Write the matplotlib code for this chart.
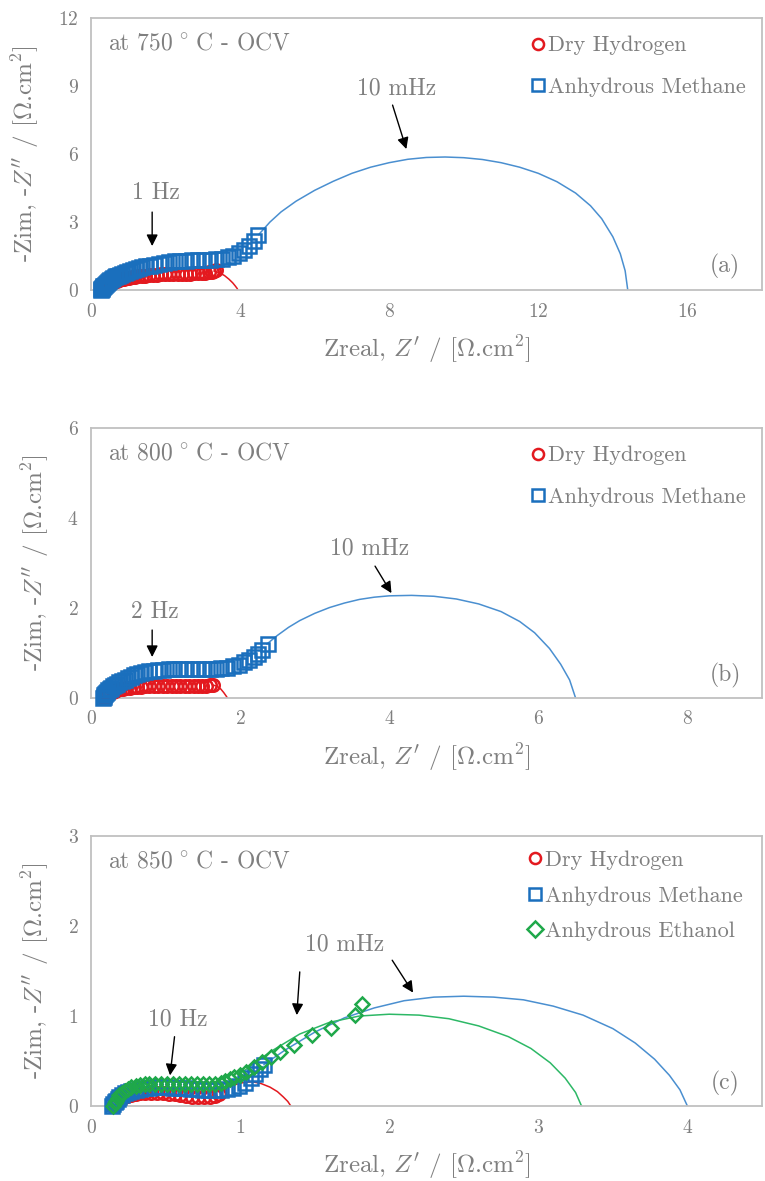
import matplotlib
matplotlib.use("Agg")
import matplotlib.pyplot as plt

plt.rcParams['font.family'] = 'serif'
plt.rcParams['font.serif'] = ['cmr10']
plt.rcParams['mathtext.fontset'] = 'cm'
plt.rcParams['axes.unicode_minus'] = False
plt.rcParams['axes.formatter.use_mathtext'] = True

GRAY = '#7f7f7f'
RED = '#e3191f'
BLUE = '#1a6fbd'
BLUE_LINE = '#4a8fd0'
GREEN = '#1fa84a'
GREEN_LINE = '#2db866'

# ---------------- (a) 750 C ----------------
h2_a_x = [0.28, 0.29, 0.30, 0.32, 0.34, 0.36, 0.39, 0.42, 0.45, 0.48, 0.52, 0.56, 0.60, 0.65,
          0.70, 0.76, 0.82, 0.88, 0.95, 1.02, 1.10, 1.18, 1.27, 1.36, 1.46, 1.56, 1.66, 1.77,
          1.88, 1.99, 2.10, 2.21, 2.32, 2.43, 2.54, 2.65, 2.76, 2.87, 2.97, 3.07, 3.16, 3.24,
          3.30, 3.34]
h2_a_y = [0.00, 0.03, 0.06, 0.09, 0.12, 0.15, 0.18, 0.21, 0.24, 0.27, 0.30, 0.33, 0.36, 0.39,
          0.42, 0.45, 0.48, 0.50, 0.53, 0.55, 0.57, 0.59, 0.61, 0.63, 0.64, 0.66, 0.67, 0.68,
          0.69, 0.70, 0.70, 0.71, 0.71, 0.72, 0.72, 0.73, 0.74, 0.75, 0.76, 0.77, 0.79, 0.81,
          0.84, 0.87]
h2_a_fit_x = [3.30, 3.45, 3.58, 3.70, 3.80, 3.87, 3.92, 3.94]
h2_a_fit_y = [0.84, 0.76, 0.64, 0.48, 0.32, 0.18, 0.07, 0.00]

ch4_a_x = [0.27, 0.28, 0.29, 0.30, 0.31, 0.33, 0.35, 0.37, 0.39, 0.42, 0.45, 0.48, 0.51, 0.55,
           0.59, 0.63, 0.68, 0.73, 0.78, 0.84, 0.90, 0.97, 1.04, 1.12, 1.20, 1.29, 1.38, 1.48,
           1.58, 1.70, 1.82, 1.95, 2.09, 2.24, 2.40, 2.56, 2.72, 2.88, 3.04, 3.20, 3.36, 3.52,
           3.67, 3.82, 3.96, 4.10, 4.24, 4.37, 4.48]
ch4_a_y = [0.00, 0.03, 0.06, 0.09, 0.12, 0.16, 0.20, 0.24, 0.28, 0.32, 0.36, 0.40, 0.44, 0.48,
           0.52, 0.56, 0.60, 0.64, 0.68, 0.72, 0.76, 0.80, 0.84, 0.88, 0.92, 0.96, 1.00, 1.04,
           1.08, 1.12, 1.16, 1.20, 1.23, 1.26, 1.28, 1.30, 1.31, 1.32, 1.33, 1.34, 1.36, 1.39,
           1.44, 1.52, 1.63, 1.78, 1.96, 2.18, 2.44]
ch4_a_fit_x = [4.50, 4.80, 5.10, 5.50, 6.00, 6.50, 7.00, 7.50, 8.00, 8.50, 9.00, 9.50, 10.0,
               10.5, 11.0, 11.5, 12.0, 12.5, 13.0, 13.4, 13.7, 14.0, 14.2, 14.33, 14.4]
ch4_a_fit_y = [2.45, 3.00, 3.45, 3.92, 4.40, 4.80, 5.15, 5.42, 5.62, 5.77, 5.85, 5.87, 5.84,
               5.76, 5.62, 5.42, 5.15, 4.78, 4.28, 3.72, 3.15, 2.35, 1.60, 0.85, 0.00]

# ---------------- (b) 800 C ----------------
h2_b_x = [0.17, 0.18, 0.19, 0.20, 0.22, 0.24, 0.26, 0.29, 0.32, 0.35, 0.39, 0.43, 0.47, 0.52,
          0.57, 0.62, 0.67, 0.72, 0.78, 0.84, 0.90, 0.96, 1.02, 1.08, 1.14, 1.20, 1.26, 1.32,
          1.38, 1.44, 1.49, 1.54, 1.59, 1.63]
h2_b_y = [0.00, 0.02, 0.04, 0.06, 0.08, 0.10, 0.12, 0.14, 0.16, 0.18, 0.20, 0.21, 0.22, 0.23,
          0.24, 0.25, 0.25, 0.26, 0.26, 0.26, 0.26, 0.26, 0.26, 0.26, 0.26, 0.26, 0.26, 0.26,
          0.26, 0.26, 0.26, 0.27, 0.28, 0.29]
h2_b_fit_x = [1.63, 1.69, 1.74, 1.78, 1.81, 1.83]
h2_b_fit_y = [0.29, 0.26, 0.20, 0.12, 0.05, 0.00]

ch4_b_x = [0.16, 0.17, 0.18, 0.19, 0.20, 0.21, 0.23, 0.25, 0.27, 0.29, 0.32, 0.35, 0.38, 0.41,
           0.45, 0.49, 0.53, 0.57, 0.62, 0.67, 0.72, 0.78, 0.84, 0.90, 0.97, 1.04, 1.11, 1.19,
           1.27, 1.35, 1.43, 1.51, 1.59, 1.67, 1.75, 1.83, 1.91, 1.98, 2.05, 2.12, 2.18, 2.24,
           2.30, 2.37]
ch4_b_y = [0.00, 0.03, 0.06, 0.09, 0.12, 0.14, 0.17, 0.20, 0.23, 0.26, 0.29, 0.32, 0.35, 0.38,
           0.41, 0.44, 0.47, 0.50, 0.53, 0.55, 0.57, 0.59, 0.61, 0.62, 0.63, 0.64, 0.65, 0.65,
           0.65, 0.65, 0.65, 0.65, 0.65, 0.65, 0.66, 0.67, 0.70, 0.74, 0.79, 0.85, 0.91, 0.98,
           1.06, 1.20]
ch4_b_fit_x = [2.36, 2.50, 2.65, 2.80, 3.00, 3.20, 3.40, 3.60, 3.80, 4.00, 4.30, 4.60, 4.90,
               5.20, 5.50, 5.75, 5.95, 6.15, 6.30, 6.42, 6.50]
ch4_b_fit_y = [1.20, 1.39, 1.57, 1.72, 1.88, 2.01, 2.11, 2.19, 2.24, 2.27, 2.28, 2.26, 2.20,
               2.09, 1.92, 1.70, 1.45, 1.10, 0.75, 0.40, 0.00]

# ---------------- (c) 850 C ----------------
h2_c_x = [0.15, 0.16, 0.17, 0.18, 0.20, 0.22, 0.24, 0.27, 0.30, 0.33, 0.36, 0.40, 0.44, 0.48,
          0.52, 0.56, 0.60, 0.64, 0.68, 0.72, 0.76, 0.80, 0.83, 0.86]
h2_c_y = [0.00, 0.02, 0.04, 0.06, 0.08, 0.10, 0.11, 0.12, 0.13, 0.14, 0.14, 0.14, 0.14, 0.14,
          0.13, 0.13, 0.12, 0.11, 0.10, 0.10, 0.10, 0.10, 0.11, 0.13]
h2_c_fit_x = [0.88, 0.95, 1.02, 1.08, 1.14, 1.20, 1.25, 1.29, 1.32, 1.34]
h2_c_fit_y = [0.18, 0.23, 0.26, 0.27, 0.25, 0.21, 0.16, 0.10, 0.05, 0.00]

ch4_c_x = [0.14, 0.15, 0.16, 0.17, 0.18, 0.19, 0.21, 0.23, 0.25, 0.27, 0.30, 0.33, 0.36, 0.39,
           0.43, 0.47, 0.51, 0.55, 0.59, 0.63, 0.67, 0.71, 0.75, 0.79, 0.83, 0.87, 0.91, 0.95,
           0.99, 1.03, 1.07, 1.10, 1.13, 1.16]
ch4_c_y = [0.00, 0.02, 0.04, 0.06, 0.08, 0.10, 0.12, 0.14, 0.16, 0.17, 0.18, 0.19, 0.20, 0.20,
           0.21, 0.21, 0.21, 0.20, 0.20, 0.20, 0.19, 0.19, 0.18, 0.18, 0.18, 0.18, 0.19, 0.20,
           0.22, 0.26, 0.31, 0.36, 0.41, 0.46]
ch4_c_fit_x = [1.16, 1.30, 1.50, 1.70, 1.90, 2.10, 2.30, 2.50, 2.70, 2.90, 3.10, 3.30, 3.50,
               3.65, 3.78, 3.88, 3.95, 4.00]
ch4_c_fit_y = [0.46, 0.62, 0.82, 0.98, 1.09, 1.17, 1.21, 1.22, 1.21, 1.18, 1.11, 1.01, 0.86,
               0.70, 0.52, 0.34, 0.18, 0.00]

eth_c_x = [0.15, 0.16, 0.17, 0.18, 0.19, 0.21, 0.23, 0.25, 0.27, 0.30, 0.33, 0.36, 0.39, 0.43,
           0.47, 0.51, 0.55, 0.59, 0.63, 0.67, 0.71, 0.75, 0.79, 0.83, 0.87, 0.90, 0.93, 0.96,
           1.00, 1.04, 1.09, 1.15, 1.21, 1.27, 1.36, 1.48, 1.61, 1.77, 1.82]
eth_c_y = [0.00, 0.03, 0.06, 0.09, 0.12, 0.15, 0.17, 0.19, 0.21, 0.22, 0.23, 0.24, 0.24, 0.24,
           0.24, 0.24, 0.24, 0.24, 0.24, 0.24, 0.24, 0.24, 0.24, 0.25, 0.26, 0.28, 0.30, 0.32,
           0.35, 0.38, 0.43, 0.49, 0.55, 0.60, 0.68, 0.79, 0.87, 1.01, 1.13]
eth_c_fit_x = [1.00, 1.20, 1.40, 1.60, 1.80, 2.00, 2.20, 2.40, 2.60, 2.80, 2.95, 3.08, 3.18,
               3.25, 3.29]
eth_c_fit_y = [0.36, 0.60, 0.80, 0.93, 1.00, 1.02, 1.01, 0.97, 0.89, 0.77, 0.64, 0.48, 0.31,
               0.15, 0.00]

panels = [
    dict(pos=[0.119, 0.7544, 0.877, 0.2303], xlim=18, xticks=[0, 4, 8, 12, 16],
         ylim=12, yticks=[0, 3, 6, 9, 12], temp='750', tag='(a)',
         series=[('Dry Hydrogen', 'o', RED, RED, h2_a_x, h2_a_y, h2_a_fit_x, h2_a_fit_y),
                 ('Anhydrous Methane', 's', BLUE, BLUE_LINE, ch4_a_x, ch4_a_y, ch4_a_fit_x, ch4_a_fit_y)],
         notes=[('1 Hz', (1.73, 4.28), [((1.64, 3.44), (1.64, 1.94))]),
                ('10 mHz', (8.19, 8.91), [((8.09, 8.16), (8.46, 6.22))])]),
    dict(pos=[0.119, 0.4090, 0.877, 0.2286], xlim=9, xticks=[0, 2, 4, 6, 8],
         ylim=6, yticks=[0, 2, 4, 6], temp='800', tag='(b)',
         series=[('Dry Hydrogen', 'o', RED, RED, h2_b_x, h2_b_y, h2_b_fit_x, h2_b_fit_y),
                 ('Anhydrous Methane', 's', BLUE, BLUE_LINE, ch4_b_x, ch4_b_y, ch4_b_fit_x, ch4_b_fit_y)],
         notes=[('2 Hz', (0.86, 1.91), [((0.82, 1.51), (0.82, 0.91))]),
                ('10 mHz', (3.74, 3.33), [((3.81, 2.93), (4.03, 2.33))])]),
    dict(pos=[0.119, 0.0635, 0.877, 0.2286], xlim=4.5, xticks=[0, 1, 2, 3, 4],
         ylim=3, yticks=[0, 1, 2, 3], temp='850', tag='(c)',
         series=[('Dry Hydrogen', 'o', RED, RED, h2_c_x, h2_c_y, h2_c_fit_x, h2_c_fit_y),
                 ('Anhydrous Methane', 's', BLUE, BLUE_LINE, ch4_c_x, ch4_c_y, ch4_c_fit_x, ch4_c_fit_y),
                 ('Anhydrous Ethanol', 'D', GREEN, GREEN_LINE, eth_c_x, eth_c_y, eth_c_fit_x, eth_c_fit_y)],
         notes=[('10 Hz', (0.58, 0.96), [((0.56, 0.77), (0.53, 0.34))]),
                ('10 mHz', (1.70, 1.79), [((1.40, 1.49), (1.38, 1.01)),
                                          ((2.02, 1.62), (2.16, 1.26))])]),
]

fig = plt.figure(figsize=(7.65, 11.81), dpi=100)

for p in panels:
    ax = fig.add_axes(p['pos'])
    # fit lines first, markers on top
    for name, mk, mcol, lcol, x, y, fx, fy in p['series']:
        ax.plot(fx, fy, '-', color=lcol, lw=1.1, zorder=2)
    for name, mk, mcol, lcol, x, y, fx, fy in p['series']:
        ms = 9 if mk == 'o' else (10 if mk == 's' else 7.5)
        ax.plot(x, y, mk, mfc='none', mec=mcol, ms=ms, mew=1.8, label=name,
                clip_on=False, zorder=3)

    ax.set_xlim(0, p['xlim'])
    ax.set_ylim(0, p['ylim'])
    ax.set_xticks(p['xticks'])
    ax.set_yticks(p['yticks'])
    ax.tick_params(length=0, labelsize=14, labelcolor=GRAY, pad=9)
    for s in ax.spines.values():
        s.set_color('#c0c0c0')
        s.set_linewidth(1.3)

    ax.set_xlabel(r"Zreal, $Z'$ / [$\Omega$.cm$^2$]", fontsize=18, color=GRAY, labelpad=9)
    ax.set_ylabel(r"-Zim, -$Z''$ / [$\Omega$.cm$^2$]", fontsize=18, color=GRAY, labelpad=12)

    ax.text(0.025, 0.905, 'at ' + p['temp'] + r'$\,^\circ\,$C - OCV', transform=ax.transAxes,
            fontsize=17, color=GRAY, va='center', ha='left')
    ax.text(0.945, 0.085, p['tag'], transform=ax.transAxes, fontsize=17, color=GRAY,
            va='center', ha='center')

    for label, tpos, arrows in p['notes']:
        ax.text(tpos[0], tpos[1], label, fontsize=17, color=GRAY, ha='center', va='center')
        for start, end in arrows:
            ax.annotate('', xy=end, xytext=start,
                        arrowprops=dict(arrowstyle='-|>', color='black', lw=1.0,
                                        mutation_scale=17, shrinkA=0, shrinkB=0))

    three = len(p['series']) == 3
    leg = ax.legend(loc='upper left', bbox_to_anchor=(0.628, 1.0), frameon=False,
                    fontsize=16, handlelength=0.7, handletextpad=0.1,
                    labelspacing=0.72 if three else 0.98,
                    borderaxespad=0.2, borderpad=0.6 if not three else 0.45)
    for t in leg.get_texts():
        t.set_color(GRAY)
    for h in leg.legend_handles:
        h.set_markersize(8)

fig.savefig('out.png', dpi=100)
